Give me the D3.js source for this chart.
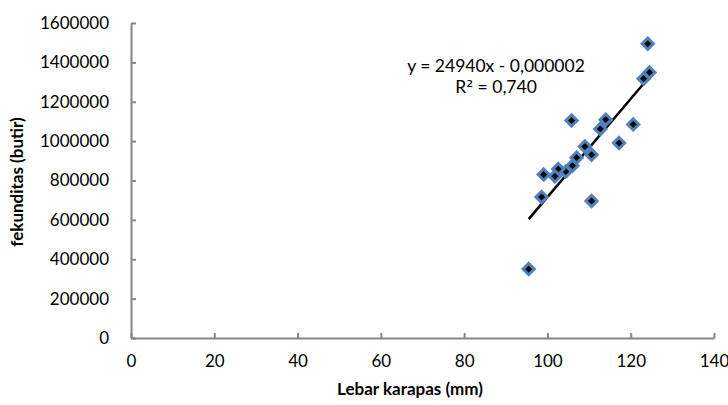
<!DOCTYPE html>
<html>
<head>
<meta charset="utf-8">
<script src="https://cdn.jsdelivr.net/npm/d3@7"></script>
<style>
	body { margin: 0; background: #fff; }
	text { font-family: Lato, "Open Sans", sans-serif; fill: #000; }
</style>
</head>
<body>
<div id="chart"></div>
<script>
// lebar karapas (mm) vs fekunditas (butir)
var lebar = [124.1, 124.5, 123.1, 105.8, 114.0, 112.7, 120.6, 117.2, 109.0, 110.6,
	107.0, 106.0, 104.4, 102.6, 99.1, 101.8, 98.6, 110.6, 95.5];
var fekunditas = [1495000, 1349000, 1317000, 1105000, 1109000, 1062000, 1085000, 990000, 973000, 931000,
	916000, 875000, 846000, 858000, 830000, 821000, 716000, 696000, 350000];
var xTicks = [0, 20, 40, 60, 80, 100, 120, 140];
var yTicks = [0, 200000, 400000, 600000, 800000, 1000000, 1200000, 1400000, 1600000];
// drawn trendline (slope from the label, intercept)
var trendSlope = 24940,
	trendIntercept = -1778000;
var eqLabel = ["y = 24940x - 0,000002", "R² = 0,740"];

var W = 728, H = 405,
	padding = { top: 23, right: 14, bottom: 67, left: 131 },
	width = W - padding.left - padding.right,
	height = H - padding.top - padding.bottom;

var svg = d3.select("#chart").append("svg")
	.attr("width", W)
	.attr("height", H);
var g = svg.append("g")
	.attr("transform", "translate(" + padding.left + "," + padding.top + ")");

var xScale = d3.scaleLinear().domain([0, 140]).range([0, width]);
var yScale = d3.scaleLinear().domain([0, 1600000]).range([height, 0]);

var axisColor = "#868686";

// y axis, ticks pointing inward
g.append("g")
	.attr("class", "axis axis-y")
	.call(d3.axisLeft(yScale).tickValues(yTicks).tickSizeInner(-5).tickSizeOuter(0).tickPadding(22).tickFormat(d3.format("d")));
// x axis
g.append("g")
	.attr("class", "axis axis-x")
	.attr("transform", "translate(0," + height + ")")
	.call(d3.axisBottom(xScale).tickValues(xTicks).tickSizeInner(-5).tickSizeOuter(0).tickPadding(17));

g.selectAll(".axis path.domain").attr("stroke", axisColor).attr("stroke-width", 2);
g.selectAll(".axis .tick line").attr("stroke", axisColor).attr("stroke-width", 2);
g.selectAll(".axis .tick text").attr("font-size", 17).attr("fill", "#000")
	.style("font-family", "Lato, sans-serif");

// trend line
var x0 = d3.min(lebar), x1 = d3.max(lebar);
g.append("line")
	.attr("x1", xScale(x0))
	.attr("y1", yScale(trendSlope * x0 + trendIntercept))
	.attr("x2", xScale(x1))
	.attr("y2", yScale(trendSlope * x1 + trendIntercept))
	.attr("stroke", "#000")
	.attr("stroke-width", 2.5);

// diamond markers
var diamond = d3.symbol().type(d3.symbolDiamond2).size(80);
g.selectAll("path.pt")
	.data(lebar)
	.enter().append("path")
	.attr("class", "pt")
	.attr("transform", function(d, i) { return "translate(" + xScale(d) + "," + yScale(fekunditas[i]) + ")"; })
	.attr("d", diamond)
	.attr("fill", "#000")
	.attr("stroke", "#4f81bd")
	.attr("stroke-width", 3);

// equation label
var eq = svg.selectAll("text.eq")
	.data(eqLabel)
	.enter().append("text")
	.attr("class", "eq")
	.attr("x", 496)
	.attr("y", function(d, i) { return 72 + i * 21; })
	.attr("text-anchor", "middle")
	.attr("font-size", 17.5);
eq.each(function(d) {
	var t = d3.select(this);
	var k = d.indexOf("²");
	if (k < 0) { t.text(d); return; }
	t.append("tspan").text(d.slice(0, k));
	t.append("tspan").style("font-family", "DejaVu Sans").text("²");
	t.append("tspan").text(d.slice(k + 1));
});

// axis titles
svg.append("text")
	.attr("x", 410)
	.attr("y", 395)
	.attr("text-anchor", "middle")
	.attr("font-size", 17)
	.attr("font-weight", "bold")
	.text("Lebar karapas (mm)");

svg.append("text")
	.attr("transform", "translate(23,182) rotate(-90)")
	.attr("text-anchor", "middle")
	.attr("font-size", 17)
	.attr("font-weight", "bold")
	.text("fekunditas (butir)");
</script>
</body>
</html>
